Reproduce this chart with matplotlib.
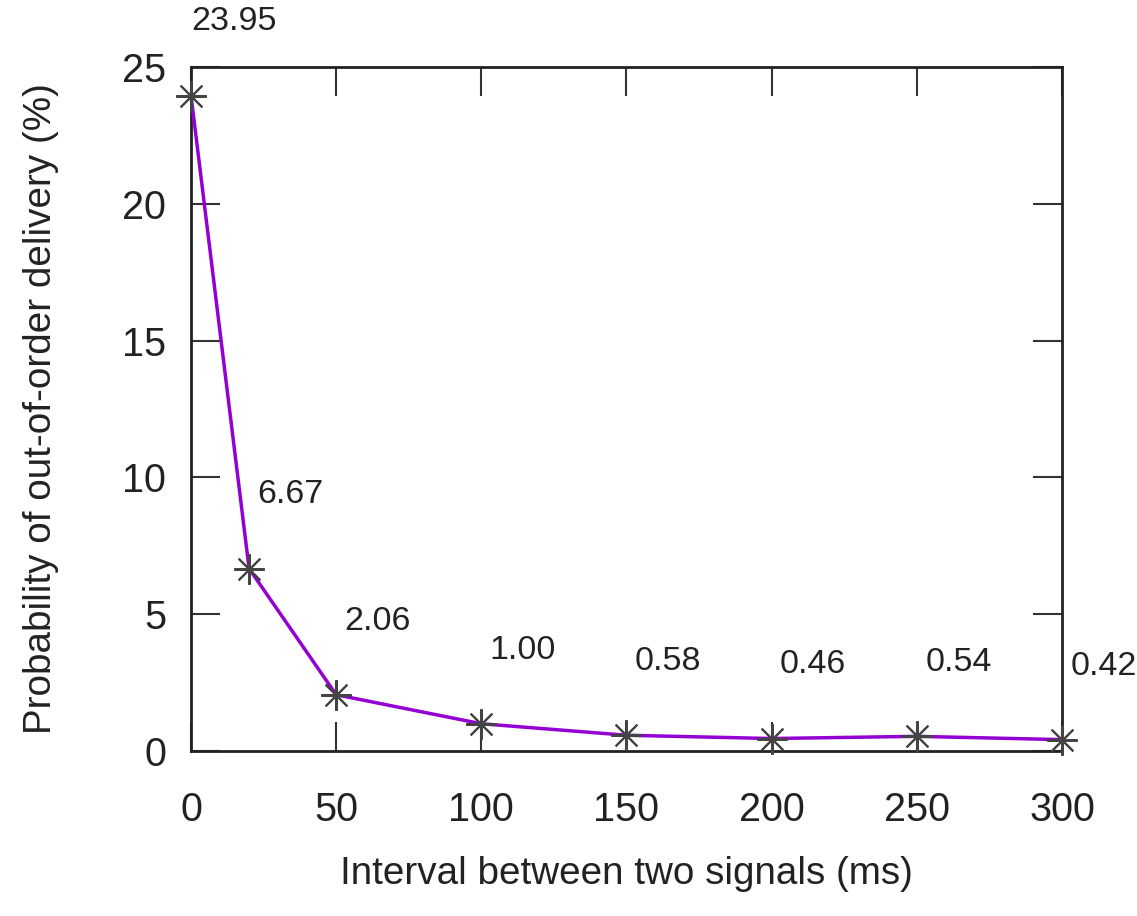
import matplotlib.pyplot as plt

plt.rcParams['font.family'] = ['Liberation Sans', 'DejaVu Sans']

interval = [0, 20, 50, 100, 150, 200, 250, 300]
prob = [23.95, 6.67, 2.06, 1.00, 0.58, 0.46, 0.54, 0.42]
xticks = [0, 50, 100, 150, 200, 250, 300]
yticks = [0, 5, 10, 15, 20, 25]

fig = plt.figure(figsize=(11.37, 9.16), dpi=100)
ax = fig.add_axes([0.168, 0.180, 0.766, 0.747])

ax.plot(interval, prob, color='#9400d3', lw=2.5, zorder=3, clip_on=False)
ax.plot(interval, prob, ls='none', marker=(8, 2, 0), ms=22, mew=1.5,
        color='#444444', zorder=4, clip_on=False)

for i, (x, y) in enumerate(zip(interval, prob)):
    dx = 0 if i == 0 else 6
    ax.annotate('%.2f' % y, (x, y), xytext=(dx, 53), textcoords='offset points',
                ha='left', va='center', fontsize=24.5, color='#222222')

ax.set_xlim(0, 300)
ax.set_ylim(0, 25)
ax.set_xticks(xticks)
ax.set_yticks(yticks)
ax.tick_params(direction='in', length=21, width=1.5, color='#333333',
               top=True, right=True, labelsize=28.5, labelcolor='#222222')
ax.tick_params(axis='x', pad=29)
ax.tick_params(axis='y', pad=18)
for s in ax.spines.values():
    s.set_linewidth(2)
    s.set_color('#222222')

ax.set_xlabel('Interval between two signals (ms)', fontsize=27.8, color='#222222', labelpad=19)
ax.set_ylabel('Probability of out-of-order delivery (%)', fontsize=27.8, color='#222222', labelpad=45)

plt.savefig('out.png')
